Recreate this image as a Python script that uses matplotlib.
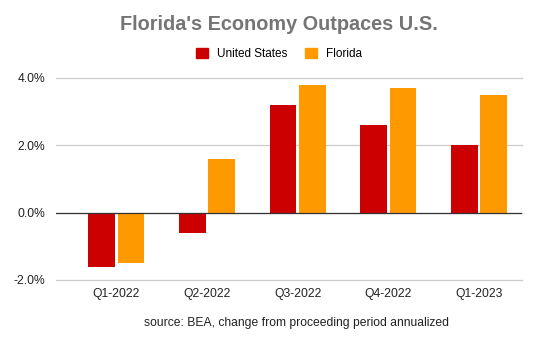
import numpy as np
import matplotlib.pyplot as plt
from matplotlib.patches import Patch

plt.rcParams['font.family'] = ['Liberation Sans', 'DejaVu Sans']

quarters = ['Q1-2022', 'Q2-2022', 'Q3-2022', 'Q4-2022', 'Q1-2023']
us_growth = [-1.6, -0.6, 3.2, 2.6, 2.0]
fl_growth = [-1.5, 1.6, 3.8, 3.7, 3.5]
y_ticks = [-2.0, 0.0, 2.0, 4.0]

us_color = '#cc0000'
fl_color = '#ff9900'

fig = plt.figure(figsize=(5.58, 3.46), dpi=100)
ax = fig.add_axes([56 / 558, 1 - 280 / 346, 466 / 558, 202 / 346])

x = np.arange(len(quarters))
width = 0.295
offset = 0.162
ax.bar(x - offset, us_growth, width, color=us_color, zorder=3)
ax.bar(x + offset, fl_growth, width, color=fl_color, zorder=3)

ax.set_xlim(-0.666, 4.475)
ax.set_ylim(-2, 4)
ax.set_yticks(y_ticks)
ax.set_yticklabels([f'{v:.1f}%' for v in y_ticks])
ax.set_xticks(x)
ax.set_xticklabels(quarters)
ax.tick_params(length=0, labelsize=8.7, colors='#222222')
ax.tick_params(axis='y', pad=8)
ax.tick_params(axis='x', pad=6)

ax.grid(axis='y', color='#cccccc', linewidth=0.9, zorder=0, clip_on=False)
for gl in ax.get_ygridlines():
    gl.set_clip_on(False)
ax.axhline(0, color='#333333', linewidth=0.9, zorder=4)
for s in ax.spines.values():
    s.set_visible(False)

fig.text(0.5, 0.928, "Florida's Economy Outpaces U.S.", ha='center', va='center',
         fontsize=14.3, fontweight='bold', color='#757575')

handles = [Patch(color=us_color, label='United States'),
           Patch(color=fl_color, label='Florida')]
fig.legend(handles=handles, loc='center', bbox_to_anchor=(0.5, 0.844), ncol=2,
           frameon=False, fontsize=8.5, handlelength=1.0, handleheight=1.0,
           handletextpad=0.76, columnspacing=1.5)

fig.text(0.532, 0.066, 'source: BEA, change from proceeding period annualized',
         ha='center', va='center', fontsize=8.7, color='#222222')

fig.savefig('out.png', dpi=100)
